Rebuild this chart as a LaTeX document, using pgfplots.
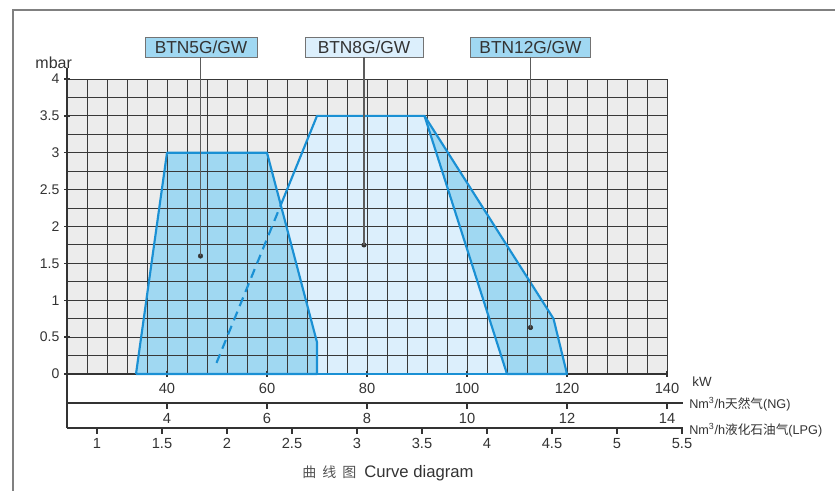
\documentclass[border=0pt]{standalone}
\usepackage{pgfplots}
\pgfplotsset{compat=1.18}
\usepackage{fontspec}
\setmainfont{Liberation Sans}
\newfontfamily\cjk{Noto Sans CJK SC}

\definecolor{bggray}{HTML}{ECECEC}
\definecolor{gridc}{HTML}{383838}
\definecolor{fillmid}{HTML}{A0D8F2}
\definecolor{filllight}{HTML}{DCEFFC}
\definecolor{lineblue}{HTML}{1A90D4}
\definecolor{textc}{HTML}{333333}
\definecolor{framec}{HTML}{808080}

\pgfplotsset{
  every axis/.append style={
    /pgf/number format/assume math mode=true,
    tick label style={font=\fontsize{11}{13}\selectfont, text=textc},
    axis line style={-, draw=textc, line width=1pt},
    every tick/.style={draw=textc, line width=1pt},
    tick align=outside,
    major tick length=4.5pt,
    minor tick length=0pt,
  },
  outline/.style={draw=lineblue, line width=1.6pt, line join=round, no markers, on layer=axis foreground},
  pointer/.style={draw=textc!80, line width=0.9pt, no markers, on layer=axis foreground},
}
\tikzset{
  btn/.style={draw=gray!90!black, line width=0.7pt, text=textc, minimum height=15pt,
    inner sep=0pt, font=\fontsize{13}{15}\selectfont},
}

\begin{document}
\begin{tikzpicture}
\path (0,0) rectangle (627pt,369pt);
\draw[framec, line width=1.5pt] (9.75pt,0.75pt) -- (9.75pt,361.5pt) -- (626.25pt,361.5pt);

% main chart, kW vs mbar
\begin{axis}[
  at={(50.25pt,88.5pt)}, anchor=south west,
  scale only axis, width=450pt, height=221.25pt,
  xmin=20, xmax=140, ymin=0, ymax=4,
  axis lines=left,
  axis line style={-, draw=textc, line width=1pt},
  every outer x axis line/.append style={-},
  every outer y axis line/.append style={-},
  xtick={20,40,60,80,100,120,140},
  xticklabels={,40,60,80,100,120,140},
  xticklabel style={yshift=-1.5pt},
  minor x tick num=4,
  ytick={0,0.5,1,1.5,2,2.5,3,3.5,4},
  minor y tick num=1,
  yticklabel style={font=\fontsize{10.5}{12}\selectfont},
  grid=both,
  major grid style={draw=gridc, line width=0.7pt},
  minor grid style={draw=gridc, line width=0.7pt},
  axis background/.style={fill=bggray},
  set layers, axis on top,
  clip=false,
]
% fills
\addplot[fill=filllight, draw=none] coordinates {(49,0) (70,3.5) (91.5,3.5) (108,0)} -- cycle;
\addplot[fill=fillmid, draw=none] coordinates {(33.8,0) (40,3) (60,3) (70,0.43) (70,0)} -- cycle;
\addplot[fill=fillmid, draw=none] coordinates {(91.5,3.5) (117.3,0.75) (120,0) (108,0)} -- cycle;
% outlines
\addplot[outline] coordinates {(33.8,0) (40,3) (60,3) (70,0.43) (70,0) (33.8,0)};
\addplot[outline] coordinates {(62.75,2.29) (70,3.5) (91.5,3.5) (108,0)};
\addplot[outline] coordinates {(49,0) (120,0)};
\addplot[outline, line cap=butt, dash pattern=on 7pt off 4.5pt] coordinates {(49.9,0.15) (62.75,2.29)};
\addplot[outline] coordinates {(91.5,3.5) (117.3,0.75) (120,0) (108,0)};
% model pointers
\addplot[pointer] coordinates {(46.7,4.3) (46.7,1.6)};
\addplot[pointer] coordinates {(79.4,4.3) (79.4,1.75)};
\addplot[pointer] coordinates {(112.7,4.3) (112.7,0.63)};
\addplot[only marks, mark=*, mark size=1.7pt, color=textc, on layer=axis foreground]
  coordinates {(46.7,1.6) (79.4,1.75) (112.7,0.63)};
\node[btn, fill=fillmid, minimum width=84pt] at (axis cs:46.8,4.434) {BTN5G/GW};
\node[btn, fill=filllight, minimum width=88.5pt] at (axis cs:79.4,4.434) {BTN8G/GW};
\node[btn, fill=fillmid, minimum width=90pt] at (axis cs:112.7,4.434) {BTN12G/GW};
% axis extension and unit labels
\draw[textc, line width=1pt] (axis cs:20,4.15) -- (axis cs:20,-0.732);
\node[text=textc, font=\fontsize{12}{14}\selectfont] at (axis cs:20,4) [xshift=-10pt, yshift=12.5pt] {mbar};
\node[anchor=west, text=textc, font=\fontsize{10}{12}\selectfont] at (axis cs:140,0) [xshift=15.5pt, yshift=-6pt] {kW};
\end{axis}

% natural gas scale
\begin{axis}[
  at={(50.25pt,66.75pt)}, anchor=south west,
  scale only axis, width=462pt, height=10pt,
  xmin=2, xmax=14.32, ymin=0, ymax=1,
  hide y axis, axis x line*=bottom,
  xtick={4,6,8,10,12,14},
  xlabel={Nm\textsuperscript{3}/h{\cjk 天然气}(NG)},
  xlabel style={at={(rel axis cs:1,0)}, anchor=west, xshift=4.5pt, yshift=-1pt,
    text=textc, font=\fontsize{9.5}{11}\selectfont, inner sep=0pt},
]
\end{axis}

% LPG scale
\begin{axis}[
  at={(50.25pt,48pt)}, anchor=south west,
  scale only axis, width=462pt, height=10pt,
  xmin=0.76923, xmax=5.50769, ymin=0, ymax=1,
  hide y axis, axis x line*=bottom,
  xtick={1,1.5,2,2.5,3,3.5,4,4.5,5,5.5},
  xlabel={Nm\textsuperscript{3}/h{\cjk 液化石油气}(LPG)},
  xlabel style={at={(rel axis cs:1,0)}, anchor=west, xshift=4.5pt, yshift=-1.5pt,
    text=textc, font=\fontsize{9.5}{11}\selectfont, inner sep=0pt},
]
\end{axis}

\node[anchor=west, inner sep=0pt] at (226.5pt,14.25pt)
  {{\cjk\fontsize{10.5}{12}\selectfont\color{textc!85}曲\hspace{4.5pt}线\hspace{4.5pt}图}\hspace{6pt}{\fontsize{12.5}{14}\selectfont\color{textc}Curve diagram}};
\end{tikzpicture}
\end{document}
